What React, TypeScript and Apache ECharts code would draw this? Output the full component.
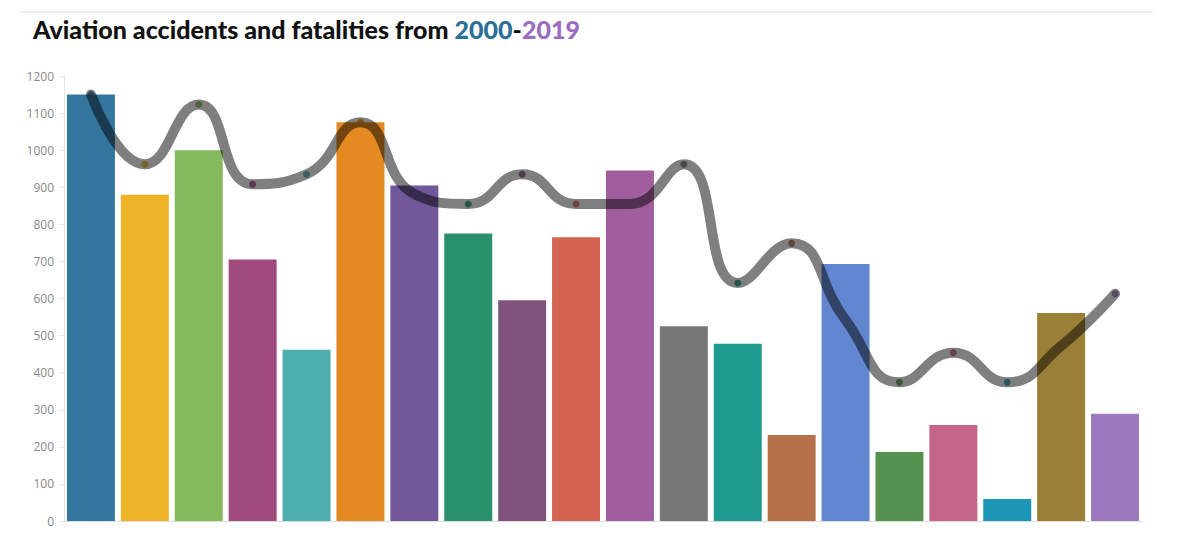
import React, { useEffect, useRef } from "react";
import * as echarts from "echarts";

const years = ["2000","2001","2002","2003","2004","2005","2006","2007","2008","2009","2010","2011","2012","2013","2014","2015","2016","2017","2018","2019"];
const accidents = [1150, 880, 1000, 705, 462, 1075, 905, 775, 595, 765, 945, 525, 478, 232, 693, 186, 259, 59, 561, 289];
const fatalities = [1150, 962, 1123, 908, 935, 1075, 882, 855, 935, 855, 855, 962, 642, 749, 542, 374, 454, 374, 472, 613];
const barColors = ["#34769e","#f0b429","#85b95d","#a0497b","#4daeb0","#e48a20","#70589a","#28906a","#80537f","#d46450","#a05e9e","#777777","#1d9a8d","#b5714a","#6286cf","#56924f","#c46486","#1d95b5","#9a8036","#9c79bf"];
const yTicks = { min: 0, max: 1200, interval: 100 };

export default function App() {
  const ref = useRef<HTMLDivElement>(null);
  useEffect(() => {
    if (!ref.current) return;
    const chart = echarts.init(ref.current, undefined, { renderer: "svg" });
    chart.setOption({
      animation: false,
      backgroundColor: "#fff",
      title: {
        text: "Aviation accidents and fatalities from {a|2000}-{b|2019}",
        left: 28,
        top: 11,
        textStyle: {
          fontFamily: "Lato",
          fontWeight: 900,
          fontSize: 25,
          color: "#111",
          rich: {
            a: { fontFamily: "Lato", fontWeight: 900, fontSize: 25, color: "#2a6f97" },
            b: { fontFamily: "Lato", fontWeight: 900, fontSize: 25, color: "#9a6bbf" },
          },
        },
      },
      graphic: [
        { type: "line", shape: { x1: 20, y1: 12, x2: 1153, y2: 12 }, style: { stroke: "#dddddd", lineWidth: 1 } },
      ],
      grid: { left: 64, right: 58, top: 76, bottom: 21, containLabel: false },
      xAxis: {
        type: "category",
        data: years,
        axisLine: { lineStyle: { color: "#dddddd" } },
        axisTick: { alignWithLabel: true, length: 5, lineStyle: { color: "#dddddd" } },
        axisLabel: { show: false },
      },
      yAxis: {
        type: "value",
        min: yTicks.min,
        max: yTicks.max,
        interval: yTicks.interval,
        axisLine: { show: true, lineStyle: { color: "#e4e4e4" } },
        axisTick: { show: true, length: 4, lineStyle: { color: "#e4e4e4" } },
        splitLine: { show: false },
        axisLabel: { color: "#888888", fontSize: 12, fontFamily: "Open Sans", margin: 10, formatter: (v: number) => String(v) },
      },
      series: [
        {
          name: "Accidents",
          type: "bar",
          barCategoryGap: "11%",
          data: accidents.map((v, i) => ({ value: v, itemStyle: { color: barColors[i] } })),
        },
        {
          name: "Fatalities points",
          type: "scatter",
          symbolSize: 7,
          data: fatalities.map((v, i) => ({ value: v, itemStyle: { color: barColors[i] } })),
        },
        {
          name: "Fatalities",
          type: "line",
          smooth: 0.5,
          showSymbol: false,
          data: fatalities,
          lineStyle: { color: "rgba(0,0,0,0.5)", width: 10, cap: "round", join: "round" },
        },
      ],
    });
    return () => chart.dispose();
  }, []);
  return <div ref={ref} style={{ position: "fixed", left: 0, top: 0, width: 1200, height: 542 }} />;
}
